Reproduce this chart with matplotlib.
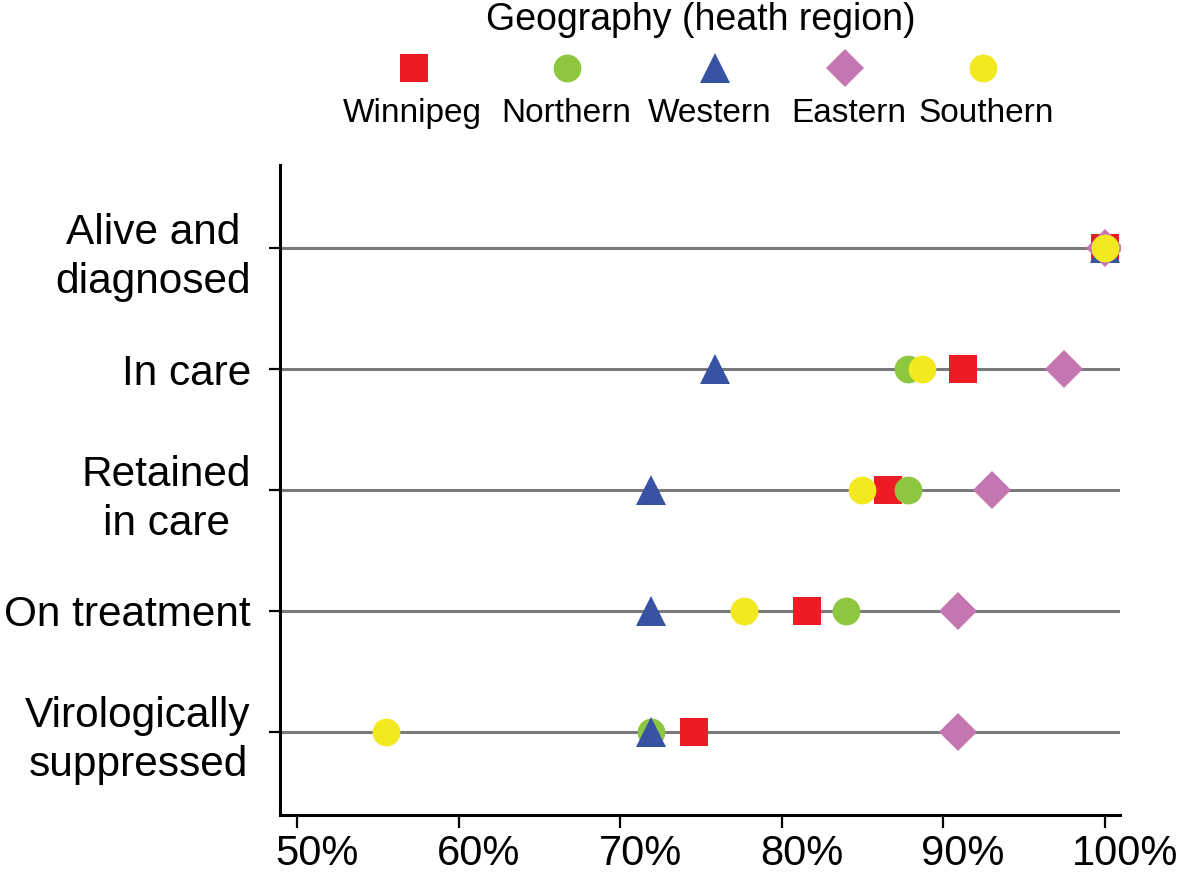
import matplotlib.pyplot as plt
from matplotlib.ticker import FuncFormatter
from matplotlib.transforms import ScaledTranslation

plt.rcParams['font.family'] = ['Liberation Sans', 'DejaVu Sans']

# Etapas da cascata de cuidado (de cima para baixo)
stages = ['Alive and\ndiagnosed', 'In care', 'Retained\nin care', 'On treatment',
          'Virologically\nsuppressed']

# Percentuais por região de saúde
winnipeg = [100, 91.2, 86.6, 81.6, 74.6]
northern = [100, 87.8, 87.8, 84.0, 71.9]
western = [100, 75.9, 71.9, 71.9, 71.9]
eastern = [100, 97.5, 93.0, 90.9, 90.9]
southern = [100, 88.7, 85.0, 77.7, 55.5]

x_ticks = [50, 60, 70, 80, 90, 100]

# nome, valores, marcador, tamanho, cor (ordem de desenho)
series = [
    ('Winnipeg', winnipeg, 's', 19.5, '#ED1C24'),
    ('Northern', northern, 'o', 20, '#8DC63F'),
    ('Western', western, '^', 22, '#3953A4'),
    ('Eastern', eastern, 'D', 19, '#C476B0'),
    ('Southern', southern, 'o', 20, '#F2EA1F'),
]
legend_order = ['Winnipeg', 'Northern', 'Western', 'Eastern', 'Southern']

fig = plt.figure(figsize=(11.81, 8.76), dpi=100)
ax = fig.add_axes([0.2371, 0.0696, 0.7113, 0.742])

ypos = list(range(len(stages)))
ax.hlines(ypos, 48.95, 100.95, color='#7a7a7a', lw=2.2, zorder=1)

for name, vals, mk, ms, col in series:
    ax.plot(vals, ypos, linestyle='none', marker=mk, markersize=ms,
            color=col, markeredgewidth=0, zorder=3)

ax.set_xlim(48.95, 100.95)
ax.set_ylim(len(stages) - 0.31, -0.69)
ax.set_xticks(x_ticks)
ax.xaxis.set_major_formatter(FuncFormatter(lambda v, p: f'{v:.0f}%'))
ax.set_yticks(ypos)
ax.set_yticklabels(stages, multialignment='center', linespacing=1.3)
ax.tick_params(axis='x', labelsize=30, length=9, width=1.6, pad=4.5)
ax.tick_params(axis='y', labelsize=30.5, length=8, width=1.6, pad=13)

# rótulos do eixo x ficam um pouco deslocados para a direita no original
shift = ScaledTranslation(0.2, 0, fig.dpi_scale_trans)
for lab in ax.get_xticklabels():
    lab.set_transform(lab.get_transform() + shift)

for s in ['top', 'right']:
    ax.spines[s].set_visible(False)
for s in ['left', 'bottom']:
    ax.spines[s].set_linewidth(2.2)

# Legenda manual: marcador em cima, nome embaixo
fig.text(0.5935, 0.9658, 'Geography (heath region)', ha='center', va='baseline', fontsize=27)
marker_x = [0.3503, 0.4801, 0.6054, 0.7155, 0.8323]
label_x = [0.3493, 0.4793, 0.6012, 0.7189, 0.8349]
styles = {name: (mk, ms, col) for name, vals, mk, ms, col in series}
for name, mx, lx in zip(legend_order, marker_x, label_x):
    mk, ms, col = styles[name]
    fig.lines.append(plt.Line2D([mx], [0.922], marker=mk, markersize=ms,
                                color=col, markeredgewidth=0,
                                transform=fig.transFigure, linestyle='none'))
    fig.text(lx, 0.8607, name, ha='center', va='baseline', fontsize=24)

fig.savefig('out.png', dpi=100)
